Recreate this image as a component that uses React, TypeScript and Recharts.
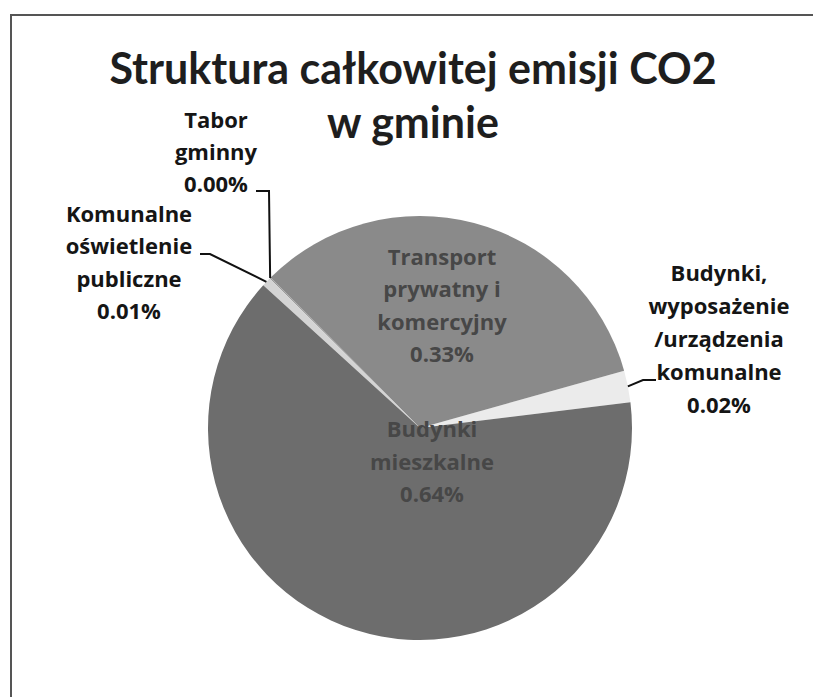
import { PieChart, Pie, Cell } from 'recharts';

// categories in drawing order (counter-clockwise from the right)
const categories = [
  'Budynki,\nwyposażenie\n/urządzenia\nkomunalne',
  'Transport\nprywatny i\nkomercyjny',
  'Tabor\ngminny',
  'Komunalne\noświetlenie\npubliczne',
  'Budynki\nmieszkalne',
];
const shares = [0.024, 0.331, 0.001, 0.007, 0.637];
const colors = ['#ebebeb', '#8a8a8a', '#9a9a9a', '#d4d4d4', '#6d6d6d'];
const titleLines = ['Struktura całkowitej emisji CO2', 'w gminie'];

const data = categories.map((name, i) => ({ name, value: shares[i] }));

const FONT = '"Open Sans", "DejaVu Sans", sans-serif';
const TITLE_FONT = 'Lato, "Open Sans", sans-serif';

// label placement relative to the pie centre
type LabelPos = {
  dx: number;
  y0: number;
  step: number;
  inside?: boolean;
  leader?: Array<[number, number]>;
};
const labelPos: LabelPos[] = [
  { dx: 299, y0: -147, step: 33, leader: [[223, -48], [236, -48]] },
  { dx: 22, y0: -163, step: 32.3, inside: true },
  { dx: -204, y0: -300, step: 32, leader: [[-151, -237], [-164, -237]] },
  { dx: -291, y0: -206, step: 32.3, leader: [[-210, -174], [-220, -174]] },
  { dx: 12, y0: 9, step: 32.5, inside: true },
];

const RAD = Math.PI / 180;

function renderLabel(props: any) {
  const { cx, cy, midAngle, outerRadius, index, value, name } = props;
  const pos = labelPos[index];
  const lines = [...String(name).split('\n'), `${Number(value).toFixed(2)}%`];
  let leader = null;
  if (pos.leader) {
    const sx = cx + outerRadius * Math.cos(-midAngle * RAD);
    const sy = cy + outerRadius * Math.sin(-midAngle * RAD);
    const pts = [[sx, sy], ...pos.leader.map(([x, y]) => [cx + x, cy + y])];
    leader = (
      <polyline
        points={pts.map((p) => p.join(',')).join(' ')}
        fill="none"
        stroke="#111"
        strokeWidth={2}
      />
    );
  }
  return (
    <g key={`lbl-${index}`}>
      {leader}
      <text
        x={cx + pos.dx}
        y={cy + pos.y0}
        textAnchor="middle"
        fontFamily={FONT}
        fontWeight={700}
        fontSize={22}
        fill={pos.inside ? '#474747' : '#151515'}
      >
        {lines.map((l, i) => (
          <tspan key={i} x={cx + pos.dx} y={cy + pos.y0 + i * pos.step}>
            {l}
          </tspan>
        ))}
      </text>
    </g>
  );
}

export default function App() {
  return (
    <div style={{ position: 'relative', width: 813, height: 689, background: '#fff' }}>
      <div
        style={{
          position: 'absolute',
          left: 2,
          top: 6,
          width: 830,
          height: 700,
          borderTop: '2px solid #555',
          borderLeft: '2px solid #555',
        }}
      />
      <div
        style={{
          position: 'absolute',
          left: 0,
          top: 33,
          width: 810,
          textAlign: 'center',
          fontFamily: TITLE_FONT,
          fontWeight: 700,
          fontSize: 43,
          lineHeight: '54px',
          color: '#1e1e1e',
        }}
      >
        {titleLines.map((t) => (
          <div key={t}>{t}</div>
        ))}
      </div>
      <div style={{ position: 'absolute', left: 0, top: 0 }}>
        <PieChart width={813} height={689} margin={{ top: 0, right: 0, bottom: 0, left: 0 }}>
          <Pie
            data={data}
            dataKey="value"
            nameKey="name"
            cx={412}
            cy={420}
            outerRadius={212}
            startAngle={7}
            endAngle={367}
            stroke="none"
            labelLine={false}
            label={renderLabel}
            isAnimationActive={false}
          >
            {data.map((d, i) => (
              <Cell key={d.name} fill={colors[i]} />
            ))}
          </Pie>
        </PieChart>
      </div>
    </div>
  );
}
